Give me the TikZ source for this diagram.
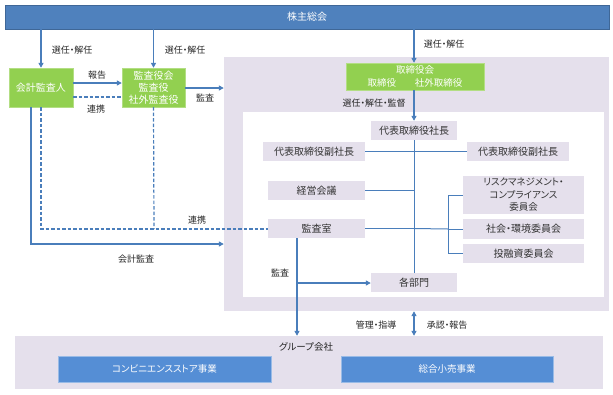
\documentclass[tikz,border=0pt]{standalone}
\usepackage{fontspec}
\setmainfont{Noto Sans CJK JP}[RawFeature={+palt}]
\usetikzlibrary{arrows.meta}
\definecolor{topblue}{HTML}{4F81BD}
\definecolor{grn}{HTML}{92D050}
\definecolor{lav}{HTML}{E5E0EC}
\definecolor{bbox}{HTML}{558ED5}
\definecolor{lblue}{HTML}{4A7EBB}
\newcommand\fsz[2]{\fontsize{#1}{#2}\selectfont}
\tikzset{
 lavbox/.style={fill=lav, inner sep=0pt, minimum height=19pt, font=\fsz{10}{12}, text=black!80, align=center},
 gbox/.style={fill=grn, draw=grn!70!white, text=white, align=center, inner sep=0pt, font=\fsz{10}{12}},
 bluebox/.style={fill=bbox, draw=bbox!60!white, text=white, inner sep=0pt, font=\fsz{9.5}{11}},
 ln/.style={draw=lblue, line width=1pt},
 arr/.style={draw=lblue, line width=1.6pt, -{Triangle[length=5pt,width=5pt]}},
 dashln/.style={draw=lblue, line width=1.2pt, dash pattern=on 3.5pt off 2pt},
 lbl/.style={font=\fsz{9}{11}, text=black!85, inner sep=1pt},
}
\begin{document}
\begin{tikzpicture}[x=1pt,y=-1pt]
\useasboundingbox (0,0) rectangle (613,394);
% panels
\node[fill=lav, minimum width=385pt, minimum height=254pt, inner sep=0pt] (panel) at (416.5,184) {};
\node[fill=white, minimum width=361pt, minimum height=185pt, inner sep=0pt] (inner) at (423.5,204.5) {};
\node[fill=lav, minimum width=588pt, minimum height=53pt, inner sep=0pt] (group) at (309,362.5) {};
\node[lbl, font=\fsz{9.5}{11}] (grouplbl) at (306,347) {グループ会社};
% top bar
\node[fill=topblue, draw=topblue!80!black, minimum width=604pt, minimum height=24pt, inner sep=0pt, text=white, font=\fsz{10}{12}] (top) at (307,17) {株主総会};
% green boxes
\node[gbox, minimum width=64pt, minimum height=39pt] (kaikei) at (41,87.5) {会計監査人};
\node[gbox, minimum width=63pt, minimum height=39pt] (kansayaku) at (153.5,87.5) {監査役会\\監査役\\社外監査役};
\node[gbox, minimum width=138pt, minimum height=27pt, font=\fsz{9.5}{12.5}] (tori) at (415,76.5) {取締役会\\取締役\hspace{2em}社外取締役};
% inner boxes
\node[lavbox, minimum width=86pt] (shacho) at (414,130.5) {代表取締役社長};
\node[lavbox, minimum width=102pt] (fukul) at (314,151.5) {代表取締役副社長};
\node[lavbox, minimum width=102pt] (fukur) at (518,151.5) {代表取締役副社長};
\node[lavbox, minimum width=97pt] (keiei) at (316.5,190.5) {経営会議};
\node[lavbox, minimum width=97pt] (kansa) at (316.5,228.5) {監査室};
\node[lavbox, minimum width=121pt, minimum height=38pt, font=\fsz{9.5}{12.5}] (risk) at (523.5,195) {リスクマネジメント・\\コンプライアンス\\委員会};
\node[lavbox, minimum width=121pt, minimum height=20pt] (shakai) at (523.5,229) {社会・環境委員会};
\node[lavbox, minimum width=121pt] (toyu) at (523.5,253.5) {投融資委員会};
\node[lavbox, minimum width=86pt] (bumon) at (414,282.5) {各部門};
% group boxes
\node[bluebox, minimum width=213pt, minimum height=26pt] (conv) at (164.5,369) {コンビニエンスストア事業};
\node[bluebox, minimum width=212pt, minimum height=26pt] (sogo) at (447,369) {総合小売事業};
% coordinates
\coordinate (j2) at (414,190.5);
\coordinate (j3) at (414,228.5);
\coordinate (b1) at (448,195);
\coordinate (b2) at (448,229);
\coordinate (b3) at (448,253.5);
\coordinate (k1) at (297,283);
\coordinate (d1) at (41,229);
\coordinate (d2) at (154,229);
\coordinate (s1) at (31,244);
% arrows from top
\draw[arr] (top.south -| kaikei) -- (kaikei.north);
\draw[arr] (top.south -| kansayaku) -- (kansayaku.north);
\draw[arr] (top.south -| shacho) -- (tori.north -| shacho);
\node[lbl] (l1) at (72,50) {選任・解任};
\node[lbl] (l2) at (185,50) {選任・解任};
\node[lbl] (l3) at (444,44) {選任・解任};
% between left boxes
\draw[arr] (kaikei.east |- 0,83) -- (kansayaku.west |- 0,83);
\node[lbl] (l4) at (97,75) {報告};
\draw[dashln] (kaikei.east |- 0,97) -- (kansayaku.west |- 0,97);
\node[lbl] (l5) at (96,109) {連携};
\draw[arr] (kansayaku.east |- 0,88) -- (panel.west |- 0,88);
\node[lbl] (l6) at (205,98) {監査};
% board to president
\draw[arr] (tori.south -| shacho) -- (shacho.north);
\node[lbl] (l7) at (374,103) {選任・解任・監督};
% tree
\draw[ln] (shacho.south) -- (bumon.north);
\draw[ln] (fukul.east) -- (fukur.west);
\draw[ln] (keiei.east) -- (j2);
\draw[ln] (kansa.east) -- (j3);
\draw[ln] (j3) -- (b2);
\draw[ln] (b1) -- (b3);
\draw[ln] (b1) -- (risk.west);
\draw[ln] (b2) -- (shakai.west);
\draw[ln] (b3) -- (toyu.west);
% audit office
\draw[arr] (kansa.south -| k1) -- (group.north -| k1);
\draw[arr] (k1) -- (bumon.west |- k1);
\node[lbl] (l8) at (280,273) {監査};
% dashed cooperation
\draw[dashln] (kaikei.south -| d1) -- (d1) -- (kansa.west |- d1);
\draw[dashln] (kansayaku.south) -- (d2);
\node[lbl] (l9) at (197,220) {連携};
% accounting audit
\draw[arr] (kaikei.south -| s1) -- (s1) -- (panel.west |- s1);
\node[lbl] (l10) at (136,259) {会計監査};
% group double arrow
\draw[draw=lblue, line width=1.6pt, {Triangle[length=5pt,width=5pt]}-{Triangle[length=5pt,width=5pt]}] (panel.south -| bumon) -- (group.north -| bumon);
\node[lbl] (l11) at (376,325) {管理・指導};
\node[lbl] (l12) at (447,325) {承認・報告};
\end{tikzpicture}
\end{document}
